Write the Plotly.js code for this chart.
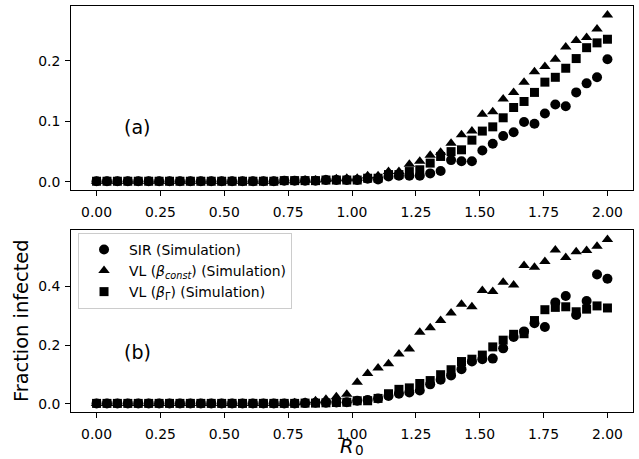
<!DOCTYPE html>
<html>
<head>
<meta charset="utf-8">
<script src="https://cdn.plot.ly/plotly-3.0.1.min.js"></script>
<style>html,body{margin:0;padding:0;background:#fff;}#chart{width:639px;height:459px;}</style>
</head>
<body>
<div id="chart"></div>
<script>
const R0 = [0, 0.0408, 0.0816, 0.1224, 0.1633, 0.2041, 0.2449, 0.2857, 0.3265, 0.3673,
  0.4082, 0.4490, 0.4898, 0.5306, 0.5714, 0.6122, 0.6531, 0.6939, 0.7347, 0.7755,
  0.8163, 0.8571, 0.8980, 0.9388, 0.9796, 1.0204, 1.0612, 1.1020, 1.1429, 1.1837,
  1.2245, 1.2653, 1.3061, 1.3469, 1.3878, 1.4286, 1.4694, 1.5102, 1.5510, 1.5918,
  1.6327, 1.6735, 1.7143, 1.7551, 1.7959, 1.8367, 1.8776, 1.9184, 1.9592, 2.0];

// Panel (a)
const sirA = [0.001,0.001,0.001,0.001,0.001,0.001,0.001,0.001,0.001,0.001,
  0.001,0.001,0.001,0.001,0.001,0.001,0.001,0.001,0.002,0.002,
  0.002,0.002,0.003,0.003,0.003,0.003,0.005,0.004,0.009,0.010,
  0.010,0.010,0.014,0.018,0.036,0.034,0.034,0.052,0.063,0.076,
  0.082,0.099,0.096,0.113,0.128,0.125,0.148,0.163,0.173,0.203];
const vlConstA = [0.001,0.001,0.001,0.001,0.001,0.001,0.001,0.001,0.001,0.001,
  0.001,0.001,0.001,0.001,0.001,0.001,0.001,0.001,0.002,0.002,
  0.003,0.003,0.004,0.005,0.006,0.006,0.010,0.010,0.017,0.017,
  0.029,0.034,0.044,0.049,0.064,0.078,0.084,0.112,0.116,0.137,
  0.148,0.165,0.182,0.191,0.203,0.223,0.234,0.239,0.253,0.276];
const vlGammaA = [0.001,0.001,0.001,0.001,0.001,0.001,0.001,0.001,0.001,0.001,
  0.001,0.001,0.001,0.001,0.001,0.001,0.001,0.001,0.002,0.002,
  0.002,0.002,0.003,0.003,0.003,0.003,0.006,0.006,0.012,0.012,
  0.017,0.020,0.031,0.042,0.050,0.053,0.069,0.084,0.091,0.106,
  0.123,0.133,0.148,0.165,0.173,0.188,0.204,0.222,0.230,0.236];

// Panel (b)
const sirB = [0.001,0.001,0.001,0.001,0.001,0.001,0.001,0.001,0.001,0.001,
  0.001,0.001,0.001,0.001,0.001,0.001,0.001,0.001,0.001,0.001,
  0.002,0.003,0.003,0.004,0.005,0.010,0.013,0.018,0.026,0.034,
  0.038,0.045,0.066,0.082,0.096,0.118,0.144,0.152,0.154,0.189,
  0.228,0.247,0.275,0.262,0.346,0.368,0.303,0.351,0.441,0.427];
const vlConstB = [0.001,0.001,0.001,0.001,0.001,0.001,0.001,0.001,0.001,0.001,
  0.001,0.001,0.001,0.001,0.001,0.001,0.001,0.001,0.001,0.003,
  0.005,0.010,0.015,0.024,0.032,0.073,0.103,0.122,0.136,0.170,
  0.187,0.244,0.259,0.284,0.310,0.340,0.331,0.387,0.383,0.415,
  0.405,0.472,0.466,0.486,0.525,0.499,0.519,0.523,0.538,0.561];
const vlGammaB = [0.001,0.001,0.001,0.001,0.001,0.001,0.001,0.001,0.001,0.001,
  0.001,0.001,0.001,0.001,0.001,0.001,0.001,0.001,0.001,0.001,
  0.002,0.002,0.003,0.004,0.005,0.010,0.010,0.018,0.034,0.049,
  0.054,0.069,0.079,0.099,0.116,0.144,0.152,0.166,0.194,0.217,
  0.237,0.239,0.284,0.321,0.329,0.331,0.314,0.323,0.334,0.327];

const seriesNames = ['SIR (Simulation)',
  'VL (<i>β</i><sub><i>const</i></sub>) (Simulation)',
  'VL (<i>β</i><sub>Γ</sub>) (Simulation)'];
const xTicks = [0, 0.25, 0.5, 0.75, 1.0, 1.25, 1.5, 1.75, 2.0];

const FONT = 'DejaVu Sans, sans-serif';
const symbols = ['circle', 'triangle-up', 'square'];
const sizes = [10, 10, 9];

function mk(y, k, xa, ya, show) {
  return {x: R0, y: y, type: 'scatter', mode: 'markers', xaxis: xa, yaxis: ya,
    name: seriesNames[k], showlegend: show,
    marker: {symbol: symbols[k], size: sizes[k], color: '#000', line: {width: 0}}};
}

const data = [
  mk(sirA, 0, 'x', 'y', false), mk(vlConstA, 1, 'x', 'y', false), mk(vlGammaA, 2, 'x', 'y', false),
  mk(sirB, 0, 'x2', 'y2', true), mk(vlConstB, 1, 'x2', 'y2', true), mk(vlGammaB, 2, 'x2', 'y2', true)
];

const axCommon = {showline: true, mirror: true, linecolor: '#000', linewidth: 1,
  ticks: 'outside', ticklen: 5, tickwidth: 1, tickcolor: '#000',
  showgrid: false, zeroline: false, tickfont: {family: FONT, size: 13.9, color: '#000'}};

const layout = {
  width: 639, height: 459,
  margin: {l: 71, r: 6, t: 6, b: 47},
  paper_bgcolor: '#fff', plot_bgcolor: '#fff',
  font: {family: FONT, color: '#000'},
  xaxis: Object.assign({}, axCommon, {domain: [0, 1], anchor: 'y', range: [-0.1, 2.1],
    tickvals: xTicks, tickformat: '.2f', ticklabelstandoff: 4}),
  yaxis: Object.assign({}, axCommon, {domain: [0.5468, 1], anchor: 'x', range: [-0.0135, 0.291],
    dtick: 0.1, tick0: 0, tickformat: '.1f', ticklabelstandoff: 2}),
  xaxis2: Object.assign({}, axCommon, {domain: [0, 1], anchor: 'y2', range: [-0.1, 2.1],
    tickvals: xTicks, tickformat: '.2f', ticklabelstandoff: 4}),
  yaxis2: Object.assign({}, axCommon, {domain: [0, 0.4495], anchor: 'x2', range: [-0.0284, 0.595],
    dtick: 0.2, tick0: 0, tickformat: '.1f', ticklabelstandoff: 2,
    title: {text: 'Fraction infected', font: {family: FONT, size: 19.4, color: '#000'}, standoff: 4}}),
  legend: {x: 0.0125, y: 0.441, xanchor: 'left', yanchor: 'top', itemwidth: 40,
    bgcolor: 'rgba(255,255,255,0.8)', bordercolor: '#cccccc', borderwidth: 1,
    font: {family: FONT, size: 13.9, color: '#000'}},
  annotations: [
    {text: '(a)', x: 0.1, y: 0.09, xref: 'x', yref: 'y', xanchor: 'left', yanchor: 'middle',
      showarrow: false, font: {family: FONT, size: 19, color: '#000'}},
    {text: '(b)', x: 0.1, y: 0.177, xref: 'x2', yref: 'y2', xanchor: 'left', yanchor: 'middle',
      showarrow: false, font: {family: FONT, size: 19, color: '#000'}},
    {text: '<i>R</i>', x: 0.491, y: -0.1155, xref: 'paper', yref: 'paper',
      xanchor: 'center', yanchor: 'bottom', showarrow: false, borderpad: 0,
      font: {family: FONT, size: 19.4, color: '#000'}},
    {text: '0', x: 0.5133, y: -0.1155, xref: 'paper', yref: 'paper',
      xanchor: 'center', yanchor: 'bottom', showarrow: false, borderpad: 0,
      font: {family: FONT, size: 13.6, color: '#000'}}
  ]
};

Plotly.newPlot('chart', data, layout, {displayModeBar: false, staticPlot: true});
</script>
</body>
</html>
